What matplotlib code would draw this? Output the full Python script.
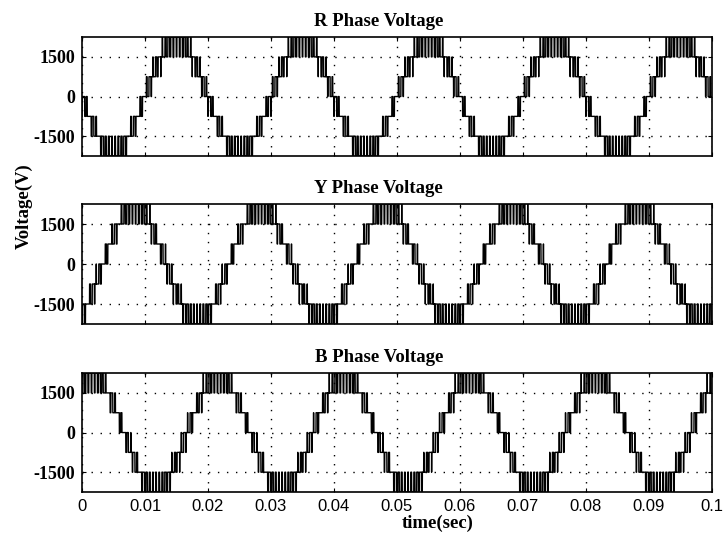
import numpy as np
import matplotlib
matplotlib.use("Agg")
import matplotlib.pyplot as plt

# seven-level inverter, phase-disposition PWM
levels = [-2250, -1500, -750, 0, 750, 1500, 2250]
step = 750
f_fund = 50.0          # Hz
f_carrier = 2000.0     # Hz
amplitude = 2100.0     # reference peak (V)
phases = ["R", "Y", "B"]
peak_times = [0.015, 0.00833, 0.02167]   # time of first positive peak (s)
titles = ["R Phase Voltage", "Y Phase Voltage", "B Phase Voltage"]
yticks = [-1500, 0, 1500]
xticks = [0, 0.01, 0.02, 0.03, 0.04, 0.05, 0.06, 0.07, 0.08, 0.09, 0.1]
xticklabels = ["0", "0.01", "0.02", "0.03", "0.04", "0.05", "0.06",
               "0.07", "0.08", "0.09", "0.1"]

t = np.arange(0, 0.1, 2e-6)
carrier = np.abs(((t * f_carrier) % 1.0) * 2 - 1)   # triangle 0..1


def phase_voltage(tp):
    ref = amplitude * np.cos(2 * np.pi * f_fund * (t - tp))
    k = np.floor(ref / step)
    frac = ref / step - k
    out = (k + (frac > carrier)) * step
    return np.clip(out, levels[0], levels[-1])


SERIF = "Liberation Serif"
fig = plt.figure(figsize=(7.24, 5.43), dpi=100, facecolor="white")
rects = [[0.1133, 0.7127, 0.870, 0.219],
         [0.1133, 0.4033, 0.870, 0.221],
         [0.1133, 0.0939, 0.870, 0.219]]

for i, (tp, title) in enumerate(zip(peak_times, titles)):
    ax = fig.add_axes(rects[i])
    ax.plot(t, phase_voltage(tp), color="black", linewidth=1.0)
    ax.set_xlim(0, 0.1)
    ax.set_ylim(-2250, 2250)
    ax.set_yticks(yticks)
    ax.set_yticklabels([str(v) for v in yticks], fontfamily=SERIF,
                       fontweight="bold", fontsize=13)
    ax.set_xticks(xticks)
    if i == 2:
        ax.set_xticklabels(xticklabels, fontfamily="Liberation Sans",
                           fontsize=12)
    else:
        ax.set_xticklabels([])
    ax.grid(True, linestyle=(0, (1, 5.5)), color="black", linewidth=1.0)
    ax.tick_params(direction="in", length=3, width=0.8, top=True, right=True,
                   pad=5)
    for s in ax.spines.values():
        s.set_linewidth(1.2)
    ax.set_title(title, fontfamily=SERIF, fontweight="bold", fontsize=13.5,
                 x=0.471, pad=8)

fig.text(0.604, 0.037, "time(sec)", ha="center", va="center",
         fontfamily=SERIF, fontweight="bold", fontsize=13.5)
fig.text(0.033, 0.62, "Voltage(V)", ha="center", va="center", rotation=90,
         fontfamily=SERIF, fontweight="bold", fontsize=13.5)

fig.savefig("out.png", dpi=100, facecolor="white")
